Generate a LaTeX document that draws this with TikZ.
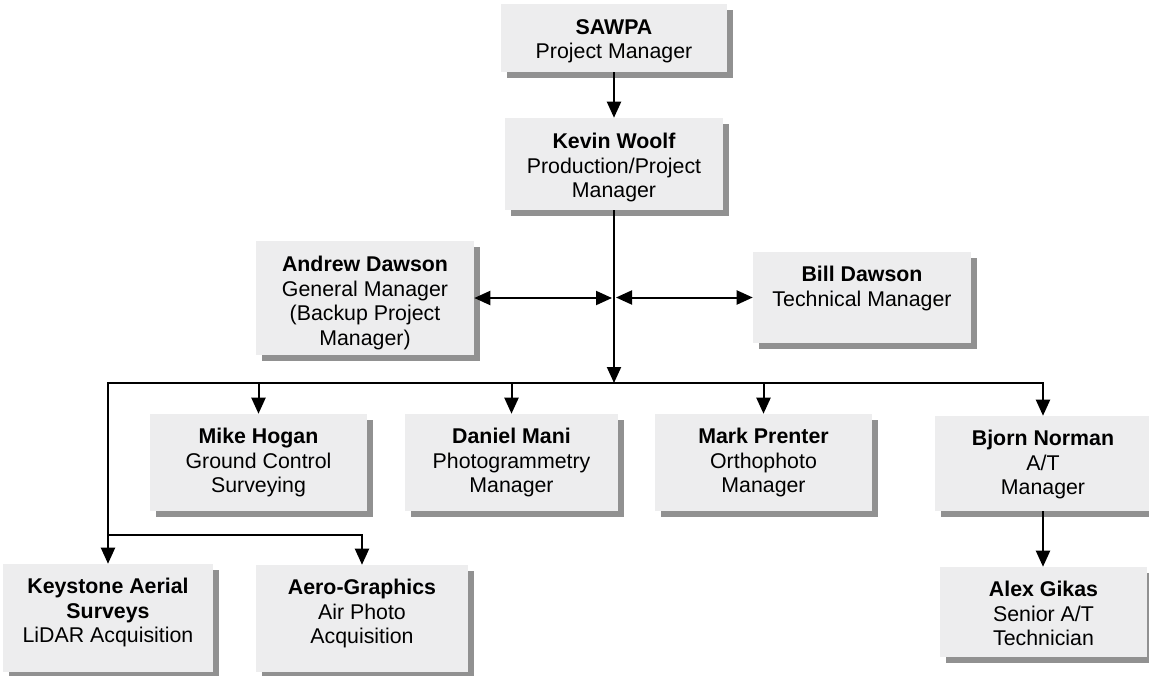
\documentclass[tikz,border=0pt]{standalone}
\usepackage{fontspec}
\setmainfont{Liberation Sans}
\usetikzlibrary{arrows.meta,fit,shadows}
\definecolor{boxfill}{RGB}{237,237,238}
\definecolor{shadowgray}{RGB}{145,145,145}
\begin{document}
\begin{tikzpicture}[x=0.75pt,y=-0.75pt,
  box/.style={fill=boxfill, inner sep=0pt, draw=none,
    drop shadow={shadow xshift=4.5pt, shadow yshift=-4.5pt, fill=shadowgray, opacity=1}},
  lbl/.style={anchor=north, inner sep=0pt, align=center, font=\fontsize{16}{18.4}\selectfont},
  conn/.style={line width=1.5pt, -{Triangle[length=12pt,width=10.5pt]}},
  dbl/.style={line width=1.5pt, {Triangle[length=12pt,width=10.5pt]}-{Triangle[length=12pt,width=10.5pt]}}]
\useasboundingbox (0,0) rectangle (1149,675);

% boxes
\node[box, fit={(501,4)(727,72)}] (sawpa) {};
\node[box, fit={(505,118)(723,210)}] (kevin) {};
\node[box, fit={(256,241)(474,355)}] (andrew) {};
\node[box, fit={(753,252)(971,343)}] (bill) {};
\node[box, fit={(150,414)(367,511)}] (mike) {};
\node[box, fit={(405,414)(618,511)}] (daniel) {};
\node[box, fit={(655,414)(872,511)}] (mark) {};
\node[box, fit={(935,416)(1151,511)}] (bjorn) {};
\node[box, fit={(940,567)(1147,657)}] (alex) {};
\node[box, fit={(3,564)(213,672)}] (keystone) {};
\node[box, fit={(256,565)(468,672)}] (aero) {};

% labels
\node[lbl] (sawpaT) at (sawpa.north |- 0,19) {\textbf{SAWPA}\\Project Manager};
\node[lbl] (kevinT) at (kevin.north |- 0,133) {\textbf{Kevin Woolf}\\Production/Project\\Manager};
\node[lbl] (andrewT) at (andrew.north |- 0,256) {\textbf{Andrew Dawson}\\General Manager\\(Backup Project\\Manager)};
\node[lbl] (billT) at (bill.north |- 0,266) {\textbf{Bill Dawson}\\Technical Manager};
\node[lbl] (mikeT) at (mike.north |- 0,428) {\textbf{Mike Hogan}\\Ground Control\\Surveying};
\node[lbl] (danielT) at (daniel.north |- 0,428) {\textbf{Daniel Mani}\\Photogrammetry\\Manager};
\node[lbl] (markT) at (mark.north |- 0,428) {\textbf{Mark Prenter}\\Orthophoto\\Manager};
\node[lbl] (bjornT) at (bjorn.north |- 0,430) {\textbf{Bjorn Norman}\\A/T\\Manager};
\node[lbl] (alexT) at (alex.north |- 0,581) {\textbf{Alex Gikas}\\Senior A/T\\Technician};
\node[lbl] (keystoneT) at (keystone.north |- 0,578) {\textbf{Keystone Aerial}\\\textbf{Surveys}\\LiDAR Acquisition};
\node[lbl] (aeroT) at (aero.north |- 0,579) {\textbf{Aero-Graphics}\\Air Photo\\Acquisition};

% connectors
\coordinate (bus) at (614,383);
\coordinate (trunkL) at (612,298);
\coordinate (trunkR) at (616,297.5);
\coordinate (branch) at (keystone.north |- 0,535);

\draw[conn] (sawpa.south) -- (kevin.north);
\draw[conn] (kevin.south) -- (bus);
\draw[dbl] (andrew.east) -- (trunkL);
\draw[dbl] (trunkR) -- (bill.west);
\draw[conn] (bus) -| (keystone);
\draw[conn] (bus) -| (mike);
\draw[conn] (bus) -| (daniel);
\draw[conn] (bus) -| (mark);
\draw[conn] (bus) -| (bjorn);
\draw[conn] (branch) -| (aero);
\draw[conn] (bjorn.south) -- (bjorn.south |- alex.north);
\end{tikzpicture}
\end{document}
